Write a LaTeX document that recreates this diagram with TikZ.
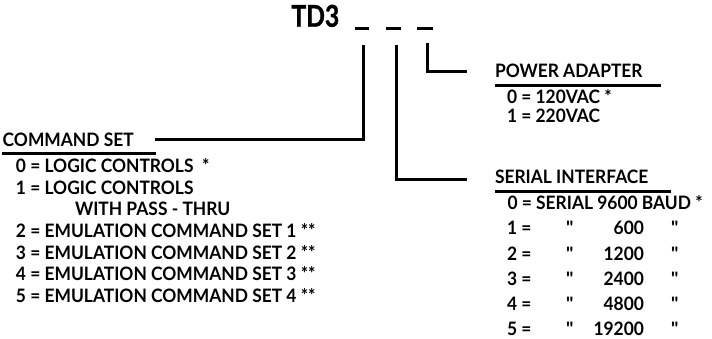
\documentclass[tikz,border=0pt]{standalone}
\usepackage{fontspec}
\setmainfont{Lato}[UprightFont={* Bold},FakeStretch=0.94]
\newfontfamily\titlefont{Lato}[UprightFont={* Bold},FakeStretch=0.82,FakeBold=1.2]
\newfontfamily\quotefont{Lato}[UprightFont={* Bold}]
\begin{document}
\begin{tikzpicture}[x=1pt,y=-1pt,
  txt/.style={inner sep=0pt,outer sep=0pt,anchor=base west,font=\fontsize{18.5}{21}\selectfont},
  lead/.style={line width=3pt},
  uline/.style={line width=2.4pt},
  dashbar/.style={line width=3pt}]
\useasboundingbox (0,0) rectangle (712,339);
% title
\node[txt,font=\titlefont\fontsize{30}{33}\selectfont] (title) at (291.5,26.7) {TD3};
\coordinate (d1a) at (355,28.3); \coordinate (d1b) at (369,28.3);
\coordinate (d2a) at (386,28.3); \coordinate (d2b) at (401,28.3);
\coordinate (d3a) at (417,28.3); \coordinate (d3b) at (433,28.3);
\draw[dashbar] (d1a) -- (d1b);
\draw[dashbar] (d2a) -- (d2b);
\draw[dashbar] (d3a) -- (d3b);
% connectors
\coordinate (c1) at (363,45); \coordinate (c1e) at (155,140);
\coordinate (c2) at (396,45); \coordinate (c2e) at (467,180);
\coordinate (c3) at (427,43); \coordinate (c3e) at (467,72);
\draw[lead] (c1) |- (c1e);
\draw[lead] (c2) |- (c2e);
\draw[lead] (c3) |- (c3e);
% command set
\node[txt] (cs) at (2.7,146.7) {COMMAND SET};
\coordinate (csu1) at (2,153.5); \coordinate (csu2) at (156,153.5);
\draw[uline] (csu1) -- (csu2);
\node[txt] (cs0) at (16,173) {0 = LOGIC CONTROLS\ \ *};
\node[txt] (cs1) at (16,194.5) {1 = LOGIC CONTROLS};
\node[txt] (cs1b) at (75,216) {WITH PASS - THRU};
\node[txt] (cs2) at (16,237.5) {2 = EMULATION COMMAND SET 1 **};
\node[txt] (cs3) at (16,259) {3 = EMULATION COMMAND SET 2 **};
\node[txt] (cs4) at (16,280.5) {4 = EMULATION COMMAND SET 3 **};
\node[txt] (cs5) at (16,302) {5 = EMULATION COMMAND SET 4 **};
% power adapter
\node[txt] (pa) at (495,78) {POWER ADAPTER};
\coordinate (pau1) at (495,85.5); \coordinate (pau2) at (661,85.5);
\draw[uline] (pau1) -- (pau2);
\node[txt] (pa0) at (507,103.5) {0 = 120VAC *};
\node[txt] (pa1) at (507,122.5) {1 = 220VAC};
% serial interface
\node[txt] (si) at (495,184) {SERIAL INTERFACE};
\coordinate (siu1) at (495,191.5); \coordinate (siu2) at (671,191.5);
\draw[uline] (siu1) -- (siu2);
\node[txt] (si0) at (507.5,210) {0 = SERIAL 9600 BAUD *};
\foreach \n/\v/\y in {1/600/235,2/1200/260,3/2400/285,4/4800/310,5/19200/335}{
  \node[txt] (si\n) at (507,\y) {\n\ =};
  \node[txt,font=\quotefont\fontsize{18.5}{21}\selectfont] (siq\n) at (566,\y) {"};
  \node[txt,anchor=base east] (siv\n) at (644,\y) {\v};
  \node[txt,font=\quotefont\fontsize{18.5}{21}\selectfont] (sir\n) at (671,\y) {"};
}
\end{tikzpicture}
\end{document}
